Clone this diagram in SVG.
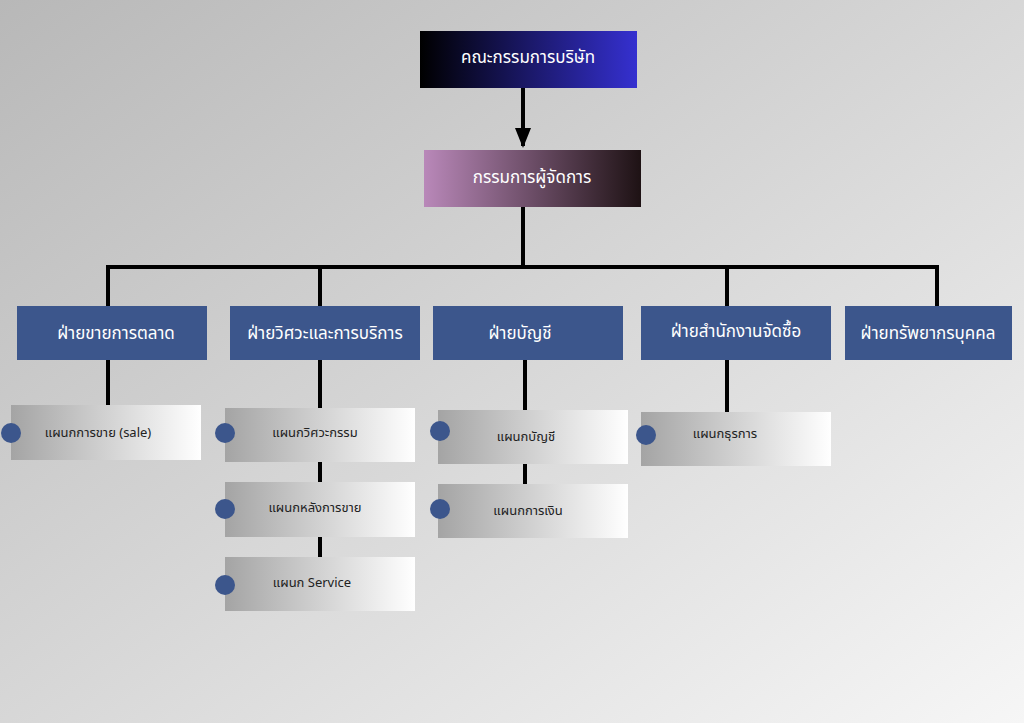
<svg xmlns="http://www.w3.org/2000/svg" width="1024" height="723" viewBox="0 0 1024 723">
<defs>
<linearGradient id="bg" x1="0" y1="0" x2="1" y2="1"><stop offset="0" stop-color="#b8b8b8"/><stop offset="1" stop-color="#f6f6f6"/></linearGradient>
<linearGradient id="g1" x1="0" x2="1"><stop offset="0" stop-color="#000"/><stop offset="1" stop-color="#3530d0"/></linearGradient>
<linearGradient id="g2" x1="0" x2="1"><stop offset="0" stop-color="#b988b9"/><stop offset="1" stop-color="#1e1214"/></linearGradient>
<linearGradient id="gs" x1="0" x2="1"><stop offset="0" stop-color="#a4a4a4"/><stop offset="1" stop-color="#ffffff"/></linearGradient>
<marker id="ah" markerWidth="5" markerHeight="4" refX="4.5" refY="2" orient="auto" markerUnits="strokeWidth"><path d="M0,0L5,2L0,4z" fill="#000"/></marker>
<style>
.t{font-family:"Noto Sans Thai","Noto Sans","DejaVu Sans",sans-serif;text-anchor:middle;dominant-baseline:central}
.w{fill:#fff;font-size:17px}
.b{fill:#222;font-size:13px}
.d{fill:#3c568c}
.s{fill:url(#gs)}
.c{fill:#3c568c}
.l{stroke:#000;stroke-width:4;fill:none}
</style>
</defs>
<rect width="1024" height="723" fill="url(#bg)"/>
<g id="connectors" class="l">
<path d="M523,88V146" marker-end="url(#ah)"/>
<path d="M523,207V267M108,306V267H937V306M320,267V306M727,267V306"/>
<path d="M108,360V405M320,360V557M525,360V484M727,360V412"/>
</g>
<g id="board"><rect x="420" y="31" width="217" height="57" fill="url(#g1)"/><text class="t w" x="528" y="58" font-size="19">คณะกรรมการบริษัท</text></g>
<g id="md"><rect x="424" y="150" width="217" height="57" fill="url(#g2)"/><text class="t w" x="532" y="178" font-size="19">กรรมการผู้จัดการ</text></g>
<g id="d1"><rect class="d" x="17" y="306" width="190" height="54"/><text class="t w" x="116" y="334">ฝ่ายขายการตลาด</text></g>
<g id="d2"><rect class="d" x="230" y="306" width="190" height="54"/><text class="t w" x="325" y="334">ฝ่ายวิศวะและการบริการ</text></g>
<g id="d3"><rect class="d" x="433" y="306" width="190" height="54"/><text class="t w" x="520" y="334">ฝ่ายบัญชี</text></g>
<g id="d4"><rect class="d" x="641" y="306" width="190" height="54"/><text class="t w" x="736" y="332">ฝ่ายสำนักงานจัดซื้อ</text></g>
<g id="d5"><rect class="d" x="845" y="306" width="167" height="54"/><text class="t w" x="928" y="334">ฝ่ายทรัพยากรบุคคล</text></g>
<g id="s1"><rect class="s" x="11" y="405" width="190" height="55"/><circle class="c" cx="11" cy="433" r="10"/><text class="t b" x="98" y="433">แผนกการขาย (sale)</text></g>
<g id="s2"><rect class="s" x="225" y="408" width="190" height="54"/><circle class="c" cx="225" cy="433" r="10"/><text class="t b" x="315" y="433">แผนกวิศวะกรรม</text></g>
<g id="s3"><rect class="s" x="225" y="482" width="190" height="55"/><circle class="c" cx="225" cy="509" r="10"/><text class="t b" x="315" y="508">แผนกหลังการขาย</text></g>
<g id="s4"><rect class="s" x="225" y="557" width="190" height="54"/><circle class="c" cx="225" cy="585" r="10"/><text class="t b" x="312" y="583">แผนก Service</text></g>
<g id="s5"><rect class="s" x="438" y="410" width="190" height="54"/><circle class="c" cx="440" cy="431" r="10"/><text class="t b" x="526" y="437">แผนกบัญชี</text></g>
<g id="s6"><rect class="s" x="438" y="484" width="190" height="54"/><circle class="c" cx="440" cy="509" r="10"/><text class="t b" x="528" y="511">แผนกการเงิน</text></g>
<g id="s7"><rect class="s" x="641" y="412" width="190" height="54"/><circle class="c" cx="646" cy="435" r="10"/><text class="t b" x="725" y="434">แผนกธุรการ</text></g>
</svg>
